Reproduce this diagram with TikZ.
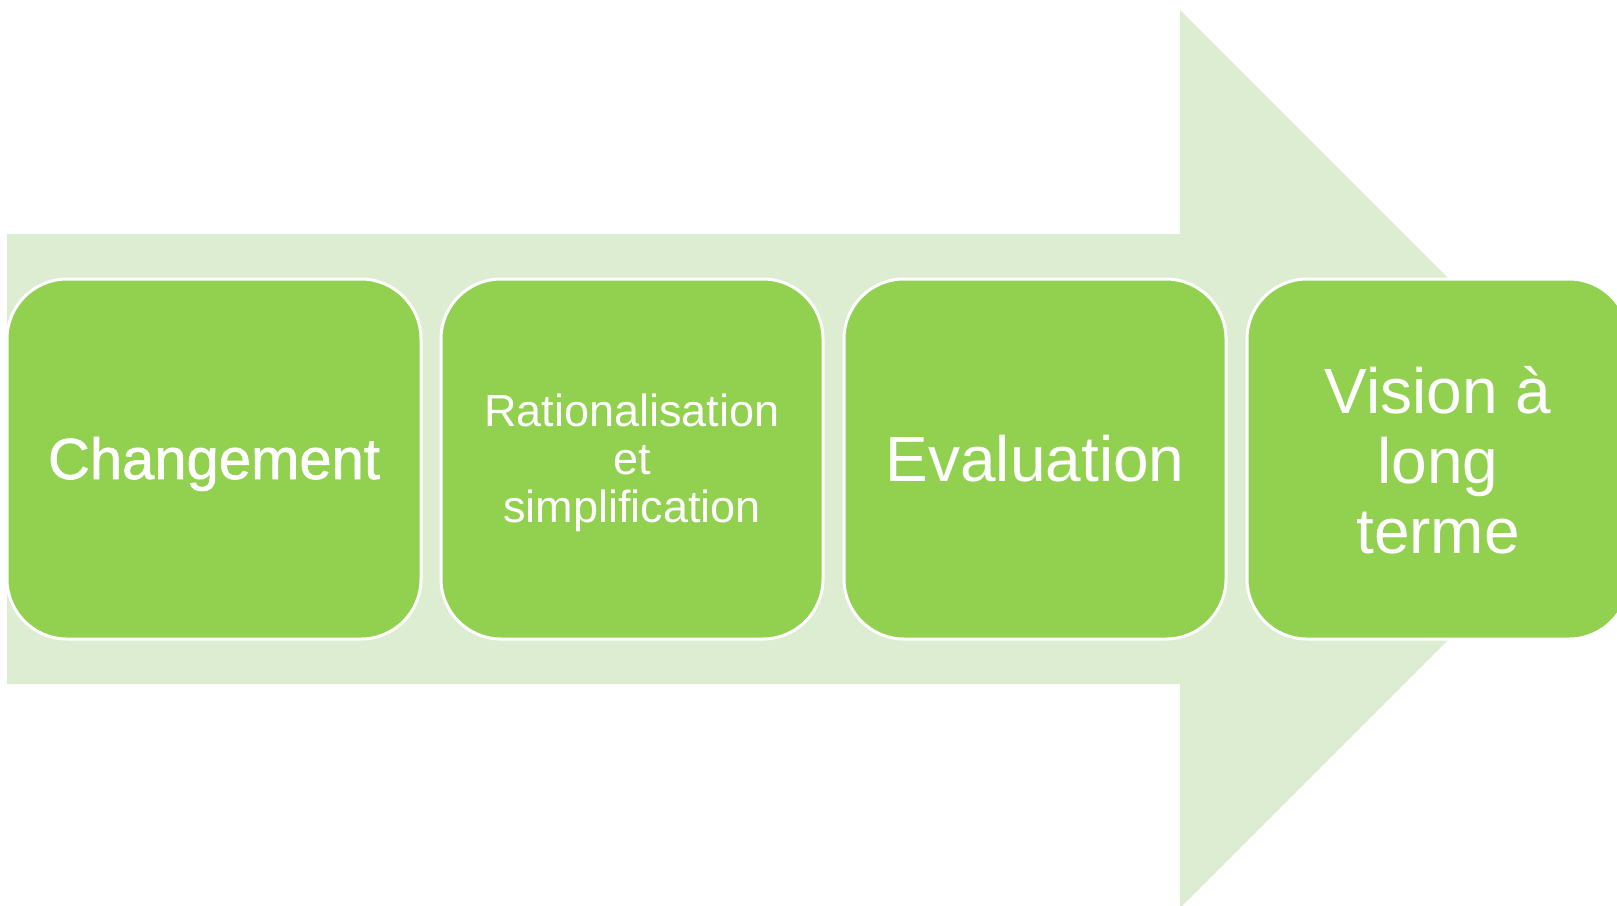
\documentclass[tikz,border=0pt]{standalone}
\usepackage{fontspec}
\setmainfont{Liberation Sans}
\newfontfamily\medfont[FakeBold=1.1]{Liberation Sans}
\definecolor{arrowfill}{HTML}{DCEDD2}
\definecolor{boxfill}{HTML}{92D050}
\begin{document}
\begin{tikzpicture}[x=1pt,y=-1pt,
  stepbox/.style={draw=white, line width=3pt, fill=boxfill, rounded corners=60pt,
    minimum height=360pt, inner sep=0pt},
  steptext/.style={text=white, align=center, inner sep=0pt}]
\useasboundingbox (0,0) rectangle (1617,905);
\clip (0,0) rectangle (1617,905);
\fill[arrowfill] (7,234) -- (1180,234) -- (1180,10) -- (1629,459) -- (1180,908) -- (1180,684) -- (7,684) -- cycle;
\node[stepbox, minimum width=414pt] (b1) at (214,459) {};
\node[stepbox, minimum width=382pt] (b2) at (632,459) {};
\node[stepbox, minimum width=382pt] (b3) at (1035,459) {};
\node[stepbox, minimum width=382pt] (b4) at (1438,459) {};
\node[steptext, font=\medfont\fontsize{58}{60}\selectfont, yshift=-5pt] (t1) at (b1.center) {Changement};
\node[steptext, font=\fontsize{45}{48}\selectfont, yshift=-4pt] (t2) at (b2.center) {Rationalisation\\et\\simplification};
\node[steptext, font=\fontsize{64}{70}\selectfont] (t3) at (b3.center) {Evaluation};
\node[steptext, font=\fontsize{64}{70}\selectfont, yshift=-1pt] (t4) at (b4.center) {Vision à\\long\\terme};
\end{tikzpicture}
\end{document}
